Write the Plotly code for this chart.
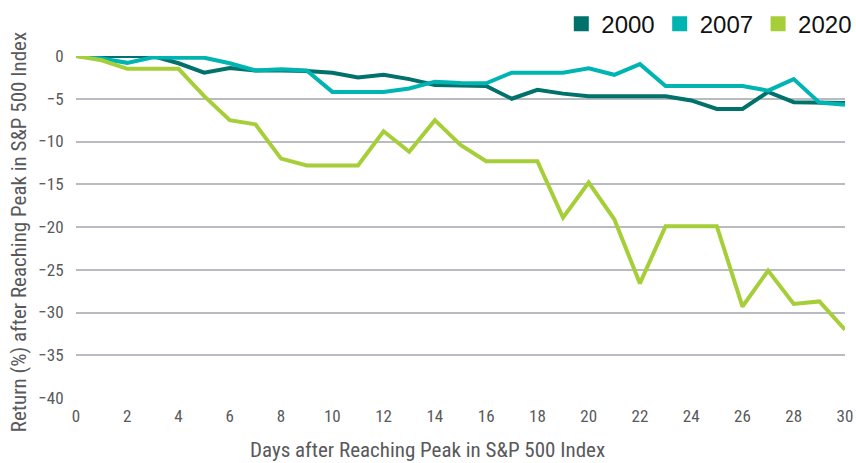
import plotly.graph_objects as go

days = list(range(31))
series_names = ["2000", "2007", "2020"]
ret_2000 = [0, 0, 0, 0, -0.85, -1.95, -1.4, -1.7, -1.7, -1.75, -1.95, -2.5, -2.2, -2.7, -3.4,
            -3.5, -3.5, -5.0, -3.95, -4.4, -4.7, -4.7, -4.7, -4.7, -5.2, -6.2, -6.2, -4.2, -5.4, -5.4, -5.5]
ret_2007 = [0, -0.3, -0.8, -0.15, -0.2, -0.2, -0.85, -1.7, -1.55, -1.7, -4.2, -4.2, -4.2, -3.8, -3.0,
            -3.15, -3.2, -1.95, -1.95, -1.95, -1.45, -2.2, -0.95, -3.5, -3.5, -3.5, -3.5, -4.05, -2.7, -5.45, -5.7]
ret_2020 = [0, -0.5, -1.5, -1.5, -1.5, -4.7, -7.5, -8.0, -12.0, -12.8, -12.8, -12.8, -8.8, -11.2, -7.5,
            -10.4, -12.3, -12.3, -12.3, -18.9, -14.8, -19.1, -26.6, -19.9, -19.9, -19.9, -29.3, -25.1, -29.0, -28.7, -32.0]
colors = ["#00716b", "#00b5b1", "#a6ce39"]
y_ticks = [0, -5, -10, -15, -20, -25, -30, -35, -40]
x_ticks = list(range(0, 31, 2))
x_title = "Days after Reaching Peak in S&P 500 Index"
y_title = "Return (%) after Reaching Peak in S&P 500 Index"

font_family = "Liberation Sans Narrow, Roboto Condensed, DejaVu Sans Condensed, sans-serif"

fig = go.Figure()
for name, vals, col in zip(series_names, [ret_2000, ret_2007, ret_2020], colors):
    fig.add_trace(go.Scatter(x=days, y=vals, mode="lines", name=name,
                             line=dict(color=col, width=4), showlegend=False))
for name, col in zip(series_names, colors):
    fig.add_trace(go.Scatter(x=[None], y=[None], mode="markers", name=name,
                             marker=dict(symbol="square", size=15, color=col)))

fig.update_layout(
    width=856, height=463,
    margin=dict(l=76, r=11, t=56, b=65, autoexpand=False),
    paper_bgcolor="white", plot_bgcolor="white",
    font=dict(family=font_family, color="#58595b"),
    legend=dict(orientation="h", xref="paper", yref="container",
                x=1.016, xanchor="right", y=0.948, yanchor="middle",
                font=dict(family="Liberation Sans, Arial, sans-serif", size=24, color="#111111"),
                itemwidth=30, tracegroupgap=0, bgcolor="rgba(0,0,0,0)"),
    xaxis=dict(range=[0, 30], tickvals=x_ticks, showgrid=False, zeroline=False,
               showline=False, ticks="outside", ticklen=3, tickcolor="rgba(0,0,0,0)",
               automargin=False,
               tickfont=dict(size=17, color="#58595b")),
    yaxis=dict(range=[-40, 0], tickvals=y_ticks, showgrid=True, gridcolor="#b8bcc0",
               gridwidth=1.5, zeroline=False, showline=False, ticks="outside", ticklen=8,
               tickcolor="rgba(0,0,0,0)", automargin=False,
               tickfont=dict(size=17, color="#58595b")),
    annotations=[
        dict(text=x_title, xref="paper", yref="paper", x=0.4577, y=-0.152,
             xanchor="center", yanchor="middle", showarrow=False,
             font=dict(size=21, color="#58595b")),
        dict(text=y_title, xref="paper", yref="paper", x=-0.0741, y=0.485,
             xanchor="center", yanchor="middle", showarrow=False, textangle=-90,
             font=dict(size=21, color="#58595b")),
    ],
)
fig.write_html("out.html", config={"displayModeBar": False},
               post_script="document.body.style.margin='0';document.body.style.overflow='hidden';")
